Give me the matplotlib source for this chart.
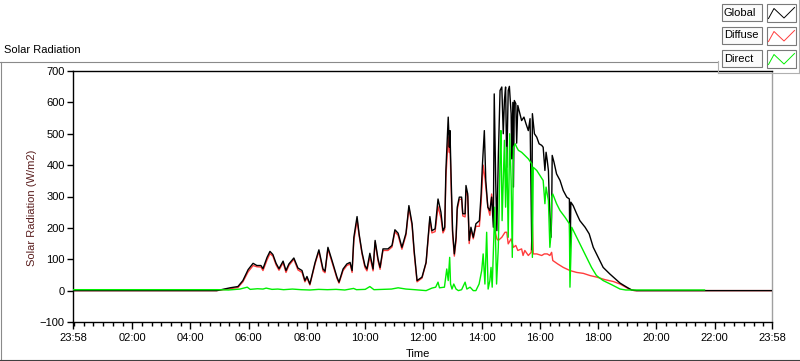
import matplotlib
matplotlib.use("Agg")
import matplotlib.pyplot as plt
from matplotlib.patches import Rectangle
from matplotlib.lines import Line2D
import numpy as np

plt.rcParams["font.family"] = ["Liberation Sans", "DejaVu Sans"]

# time in hours from midnight (23:58 of the previous day = -0.033)
global_t = [-0.033, 4.90, 5.01, 5.36, 5.63, 5.80, 5.98, 6.15, 6.28, 6.42, 6.49, 6.63, 6.73, 6.83,
            6.94, 7.04, 7.18, 7.28, 7.38, 7.55, 7.69, 7.83, 7.93, 8.00, 8.10, 8.28, 8.41, 8.55,
            8.62, 8.72, 8.86, 9.03, 9.10, 9.24, 9.37, 9.48, 9.55, 9.61, 9.72, 9.79, 9.89, 9.99,
            10.06, 10.16, 10.27, 10.34, 10.44, 10.51, 10.61, 10.78, 10.92, 11.02, 11.13, 11.26,
            11.40, 11.50, 11.61, 11.68, 11.78, 11.95, 12.09, 12.22, 12.29, 12.40, 12.50, 12.60,
            12.67, 12.73, 12.77, 12.85, 12.89, 12.91, 12.95, 13.00, 13.06, 13.12, 13.16, 13.23,
            13.31, 13.35, 13.43, 13.46, 13.52, 13.57, 13.63, 13.71, 13.80, 13.92, 13.98, 14.02,
            14.09, 14.14, 14.21, 14.28, 14.34, 14.40, 14.43, 14.48, 14.52, 14.57, 14.63, 14.69,
            14.74, 14.78, 14.82, 14.86, 14.91, 14.95, 15.01, 15.03, 15.05, 15.07, 15.09, 15.12,
            15.17, 15.20, 15.24, 15.31, 15.37, 15.45, 15.52, 15.60, 15.66, 15.72, 15.74, 15.81,
            15.89, 15.97, 16.06, 16.11, 16.17, 16.21, 16.25, 16.29, 16.32, 16.34, 16.38, 16.40,
            16.42, 16.48, 16.57, 16.69, 16.80, 16.92, 17.01, 17.03, 17.06, 17.14, 17.26, 17.37,
            17.55, 17.69, 17.83, 18.00, 18.17, 18.40, 18.75, 18.98, 19.15, 19.32, 23.967]
global_v = [0, 0, 2, 9, 13, 32, 67, 87, 80, 80, 70, 106, 125, 115,
            87, 70, 94, 64, 85, 104, 72, 64, 32, 45, 21, 90, 130, 69,
            62, 138, 96, 43, 27, 69, 85, 90, 64, 170, 236, 181, 122, 80,
            69, 119, 69, 160, 101, 74, 133, 133, 144, 194, 183, 138,
            183, 271, 213, 128, 32, 43, 90, 236, 191, 197, 292, 250,
            191, 202, 383, 553, 457, 510, 361, 191, 117, 170, 266, 298,
            298, 245, 245, 335, 308, 160, 202, 170, 213, 223, 308, 393,
            510, 351, 266, 255, 298, 202, 627, 351, 191, 425, 638, 649,
            500, 606, 649, 393, 638, 651, 564, 420, 510, 600, 330, 606,
            596, 470, 590, 564, 542, 553, 532, 510, 548, 130, 564, 500,
            489, 468, 463, 457, 383, 441, 415, 383, 287, 245, 170, 234,
            431, 410, 372, 351, 319, 298, 292, 74, 282, 271, 245, 223,
            202, 181, 138, 106, 74, 53, 24, 11, 2, 0, 0]

diffuse_t = [-0.033, 4.90, 5.36, 5.63, 5.80, 5.98, 6.15, 6.28, 6.42, 6.49, 6.63, 6.73, 6.83,
             6.94, 7.04, 7.18, 7.28, 7.38, 7.55, 7.69, 7.83, 7.93, 8.00, 8.10, 8.28, 8.41, 8.55,
             8.62, 8.72, 8.86, 9.03, 9.10, 9.24, 9.37, 9.48, 9.55, 9.61, 9.72, 9.79, 9.89, 9.99,
             10.06, 10.16, 10.27, 10.34, 10.44, 10.51, 10.61, 10.78, 10.92, 11.02, 11.13, 11.26,
             11.40, 11.50, 11.61, 11.68, 11.78, 11.95, 12.09, 12.22, 12.29, 12.40, 12.50, 12.60,
             12.67, 12.73, 12.77, 12.85, 12.89, 12.91, 12.95, 13.00, 13.06, 13.12, 13.16, 13.23,
             13.31, 13.35, 13.43, 13.46, 13.52, 13.57, 13.63, 13.71, 13.80, 13.92, 13.98, 14.05,
             14.12, 14.21, 14.28, 14.34, 14.40, 14.48, 14.52, 14.57, 14.69, 14.80, 14.86, 14.91,
             15.01, 15.09, 15.17, 15.24, 15.37, 15.42, 15.48, 15.60, 15.70, 15.74, 15.77, 15.89,
             16.06, 16.15, 16.25, 16.34, 16.40, 16.44, 16.61, 16.80, 17.03, 17.26, 17.49, 17.72,
             17.95, 18.23, 18.52, 18.75, 19.06, 19.23, 23.967]
diffuse_v = [0, 0, 6, 10, 28, 60, 80, 76, 75, 64, 98, 118, 110,
             82, 65, 89, 58, 80, 100, 66, 58, 28, 41, 18, 86, 125, 63,
             57, 133, 91, 39, 24, 64, 80, 85, 58, 160, 225, 176, 117, 74,
             63, 108, 63, 154, 95, 68, 128, 128, 139, 188, 176, 132,
             177, 264, 206, 120, 28, 40, 88, 228, 184, 188, 268, 232,
             184, 195, 360, 490, 440, 470, 330, 180, 110, 160, 258, 290,
             292, 238, 235, 320, 300, 150, 195, 165, 205, 205, 280, 400,
             351, 266, 240, 308, 255, 181, 165, 160, 170, 186, 186, 149,
             165, 138, 144, 128, 133, 112, 128, 112, 122, 213, 117, 117,
             112, 117, 117, 112, 122, 96, 85, 74, 64, 58, 55, 48,
             43, 35, 29, 21, 5, 0, 0]

direct_t = [-0.033, 4.95, 5.30, 5.70, 5.95, 6.05, 6.30, 6.49, 6.60, 6.80, 7.00, 7.20, 7.50,
            7.80, 8.10, 8.40, 8.70, 9.00, 9.30, 9.60, 9.70, 10.00, 10.16, 10.30, 10.60, 10.90,
            11.13, 11.40, 11.70, 12.09, 12.29, 12.42, 12.50, 12.55, 12.72, 12.80, 12.85, 12.90,
            12.93, 12.98, 13.04, 13.12, 13.20, 13.31, 13.43, 13.49, 13.60, 13.71, 13.80, 13.91,
            14.00, 14.05, 14.11, 14.17, 14.22, 14.28, 14.32, 14.36, 14.45, 14.51, 14.57, 14.63,
            14.66, 14.70, 14.78, 14.82, 14.86, 14.91, 14.96, 15.01, 15.05, 15.09, 15.15, 15.20,
            15.26, 15.37, 15.48, 15.60, 15.72, 15.74, 15.77, 15.89, 16.00, 16.11, 16.17, 16.21,
            16.29, 16.34, 16.38, 16.40, 16.44, 16.57, 16.69, 16.86, 17.01, 17.03, 17.09, 17.26,
            17.43, 17.60, 17.77, 17.94, 18.17, 18.46, 18.75, 18.95, 19.10, 21.65]
direct_v = [3, 3, 2, 5, 11, 4, 6, 5, 8, 4, 5, 3, 5,
            3, 2, 4, 3, 4, 2, 7, 3, 4, 13, 3, 4, 5,
            9, 5, 3, 0, 8, 11, 27, 9, 11, 69, 32, 106,
            21, 5, 21, 5, 0, 3, 27, 5, 11, 0, 0, 21,
            64, 117, 21, 186, 5, 32, 74, 11, 266, 21, 138, 425,
            510, 223, 479, 266, 457, 170, 500, 351, 106, 457, 468, 457,
            447, 441, 431, 420, 404, 106, 393, 383, 367, 351, 277, 330,
            287, 138, 181, 298, 308, 277, 255, 234, 213, 11, 202, 170,
            138, 106, 74, 48, 32, 19, 5, 2, 2, 2]

xtick_pos = [-0.033, 2, 4, 6, 8, 10, 12, 14, 16, 18, 20, 22, 23.967]
xtick_labels = ["23:58", "02:00", "04:00", "06:00", "08:00", "10:00", "12:00",
                "14:00", "16:00", "18:00", "20:00", "22:00", "23:58"]
legend_names = ["Global", "Diffuse", "Direct"]
colors = ["#000000", "#ff3c3c", "#00ee00"]

W, H = 800, 361


def fx(x):
    return x / W


def fy(y):
    return 1 - y / H


fig = plt.figure(figsize=(W / 100, H / 100), dpi=100)
ax = fig.add_axes([fx(73), 1 - 322 / H, 699 / W, 251 / H])

ax.plot(diffuse_t, diffuse_v, color=colors[1], lw=1.0, zorder=2)
ax.plot(global_t, global_v, color=colors[0], lw=1.0, zorder=3)
ax.plot(direct_t, direct_v, color=colors[2], lw=1.0, zorder=4)

ax.set_xlim(-0.033, 23.967)
ax.set_ylim(-100, 700)
ax.set_yticks(range(-100, 701, 100))
ax.set_xticks(xtick_pos)
ax.set_xticklabels(xtick_labels)
ax.set_xticks(np.arange(0, 24, 1 / 3), minor=True)
ax.tick_params(axis="both", which="major", direction="out", length=4, width=1,
               labelsize=8, pad=2, colors="#000000")
ax.tick_params(axis="x", which="major", length=5, pad=3)
ax.tick_params(axis="x", which="minor", direction="out", length=3, width=1)
for s in ["left", "top", "bottom"]:
    ax.spines[s].set_color("#000000")
    ax.spines[s].set_linewidth(1.0)
ax.spines["right"].set_color("#a0a0a0")
ax.spines["right"].set_linewidth(1.0)

# titles and axis names
fig.text(fx(4), fy(50), "Solar Radiation", fontsize=8, va="center", ha="left")
fig.text(fx(32), fy(208), "Solar Radiation (W/m2)", fontsize=8, rotation=90,
         va="center", ha="center", color="#5a1e1e")
fig.text(fx(418), fy(354), "Time", fontsize=8, va="center", ha="center")

# outer panel frame
gray = "#8a8a8a"
fig.add_artist(Line2D([fx(0), fx(718)], [fy(61.5), fy(61.5)], color=gray, lw=0.8))
fig.add_artist(Line2D([fx(0.5), fx(0.5)], [fy(61.5), fy(361)], color=gray, lw=0.8))
fig.add_artist(Line2D([fx(0), fx(800)], [fy(359.5), fy(359.5)], color="#404040", lw=0.8))

# legend panel
fig.add_artist(Line2D([fx(718), fx(718)], [fy(61), fy(72.5)], color="#b0b0b0", lw=0.8))
fig.add_artist(Line2D([fx(718), fx(799)], [fy(72.5), fy(72.5)], color="#b0b0b0", lw=0.8))
fig.add_artist(Line2D([fx(798.5), fx(798.5)], [fy(0), fy(72.5)], color="#b0b0b0", lw=0.8))

row_tops = [4, 27, 50]
for name, col, top in zip(legend_names, colors, row_tops):
    fig.add_artist(Rectangle((fx(722), fy(top + 17)), 40 / W, 17 / H,
                             facecolor="#fbfbfb", edgecolor="#7a7a7a", lw=0.8,
                             transform=fig.transFigure))
    fig.text(fx(724), fy(top + 8.5), name, fontsize=8, va="center", ha="left")
    fig.add_artist(Rectangle((fx(767), fy(top + 18)), 29 / W, 18 / H,
                             facecolor="#ffffff", edgecolor="#7a7a7a", lw=0.8,
                             transform=fig.transFigure))
    zx = [768.5, 774, 784, 794.5]
    zy = [top + 14.5, top + 4.5, top + 14, top + 3.5]
    fig.add_artist(Line2D([fx(v) for v in zx], [fy(v) for v in zy], color=col, lw=0.7))

fig.savefig("out.png", dpi=100)
plt.close(fig)
